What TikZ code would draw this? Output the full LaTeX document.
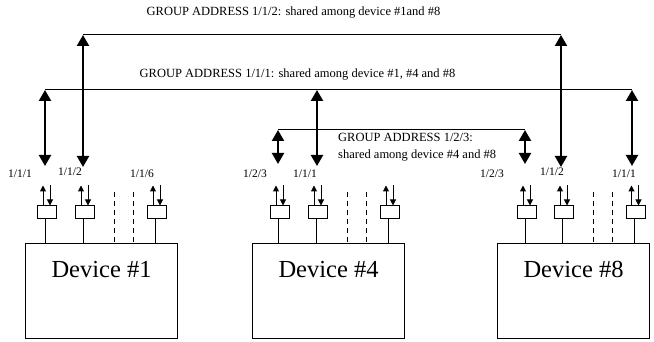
\documentclass[tikz,border=0pt]{standalone}
\usepackage{fontspec}
\setmainfont{Liberation Serif}
\usetikzlibrary{arrows.meta}
\usetikzlibrary{positioning}

\begin{document}
\begin{tikzpicture}[
        x = 1pt, y = -1pt,
        device/.style = {draw, line width = 1pt, rectangle, minimum width = 152pt, inner sep = 0pt,
                         text height = 33.5pt, text depth = 61.5pt,
                         font = \fontsize{24.5}{26}\selectfont, anchor = north west},
        port/.style = {draw, line width = 1pt, rectangle, minimum width = 19pt, minimum height = 13pt, inner sep = 0pt},
        portlabel/.style = {font = \fontsize{11.5}{13}\selectfont, inner sep = 0pt},
        grouplabel/.style = {font = \fontsize{12.5}{17}\selectfont, inner sep = 0pt},
        busline/.style = {line width = 1pt},
        busarrow/.style = {line width = 2.2pt, {Triangle[length = 11pt, width = 12pt]}-{Triangle[length = 11pt, width = 12pt]}},
        portarrow/.style = {line width = 1pt, -{Triangle[length = 6pt, width = 6pt]}},
        ]
    \useasboundingbox (0,0) rectangle (654,342);

    % devices
    \node[device] (dev1) at (25,243) {Device \#1};
    \node[device] (dev4) at (252,243) {Device \#4};
    \node[device] (dev8) at (497,243) {Device \#8};

    % ports
    \node[port] (p1a) at (47,212.5) {};
    \node[port] (p1b) at (85,212.5) {};
    \node[port] (p1c) at (157,212.5) {};
    \node[port] (p4a) at (280,212.5) {};
    \node[port] (p4b) at (318,212.5) {};
    \node[port] (p4c) at (390,212.5) {};
    \node[port] (p8a) at (527,212.5) {};
    \node[port] (p8b) at (564,212.5) {};
    \node[port] (p8c) at (635.5,212.5) {};

    \foreach \p/\d in {p1a/dev1, p1b/dev1, p1c/dev1, p4a/dev4, p4b/dev4, p4c/dev4,
                       p8a/dev8, p8b/dev8, p8c/dev8} {
        \draw[busline] ([xshift = -1.5pt]\p.south) -- ([xshift = -1.5pt]\p.south |- \d.north);
        \draw[portarrow] ([xshift = -4pt]\p.north) -- ++(0,-20);
        \draw[portarrow] ([xshift = 3pt]\p.north) ++(0,-20) -- ([xshift = 3pt]\p.north);
    }

    % unused ports
    \coordinate (d1a) at (114,192);
    \coordinate (d1b) at (133,192);
    \coordinate (d4a) at (347,192);
    \coordinate (d4b) at (366,192);
    \coordinate (d8a) at (593,192);
    \coordinate (d8b) at (612,192);
    \draw[busline, dash pattern = on 5pt off 4pt] (d1a) -- (d1a |- dev1.north);
    \draw[busline, dash pattern = on 5pt off 4pt] (d1b) -- (d1b |- dev1.north);
    \draw[busline, dash pattern = on 5pt off 4pt] (d4a) -- (d4a |- dev4.north);
    \draw[busline, dash pattern = on 5pt off 4pt] (d4b) -- (d4b |- dev4.north);
    \draw[busline, dash pattern = on 5pt off 4pt] (d8a) -- (d8a |- dev8.north);
    \draw[busline, dash pattern = on 5pt off 4pt] (d8b) -- (d8b |- dev8.north);

    % port addresses
    \node[portlabel] (l1a) at (20,174) {1/1/1};
    \node[portlabel] (l1b) at (70,172) {1/1/2};
    \node[portlabel] (l1c) at (142,174) {1/1/6};
    \node[portlabel] (l4a) at (255,174) {1/2/3};
    \node[portlabel] (l4b) at (305,174) {1/1/1};
    \node[portlabel] (l8a) at (492,174) {1/2/3};
    \node[portlabel] (l8b) at (552,172) {1/1/2};
    \node[portlabel] (l8c) at (624,174) {1/1/1};

    % group 1/1/2
    \coordinate (g2a) at (83,35);
    \coordinate (g2b) at (561,35);
    \coordinate (t2a) at (83,167);
    \coordinate (t2b) at (561,167);
    \node[grouplabel] (g2) at (293.5,13) {GROUP ADDRESS 1/1/2: shared among device \#1and \#8};
    \draw[busline] (g2a) -- (g2b);
    \draw[busarrow] (g2a) -- (t2a);
    \draw[busarrow] (g2b) -- (t2b);

    % group 1/1/1
    \coordinate (g1a) at (45,90);
    \coordinate (g1b) at (632,90);
    \coordinate (t1a) at (45,166);
    \coordinate (t1b) at (317,166);
    \coordinate (t1c) at (632,166);
    \node[grouplabel] (g1) at (297.5,75) {GROUP ADDRESS 1/1/1: shared among device \#1, \#4 and \#8};
    \draw[busline] (g1a) -- (g1b);
    \draw[busarrow] (g1a) -- (t1a);
    \draw[busarrow] (t1b |- g1a) -- (t1b);
    \draw[busarrow] (g1b) -- (t1c);

    % group 1/2/3
    \coordinate (g3a) at (278,130);
    \coordinate (g3b) at (525,130);
    \coordinate (t3a) at (278,164);
    \coordinate (t3b) at (525,164);
    \node[grouplabel, anchor = west, align = left] (g3) at (338,147.5) {GROUP ADDRESS 1/2/3:\\shared among device \#4 and \#8};
    \draw[busline] (g3a) -- (g3b);
    \draw[busarrow] (g3a) -- (t3a);
    \draw[busarrow] (g3b) -- (t3b);
\end{tikzpicture}
\end{document}
